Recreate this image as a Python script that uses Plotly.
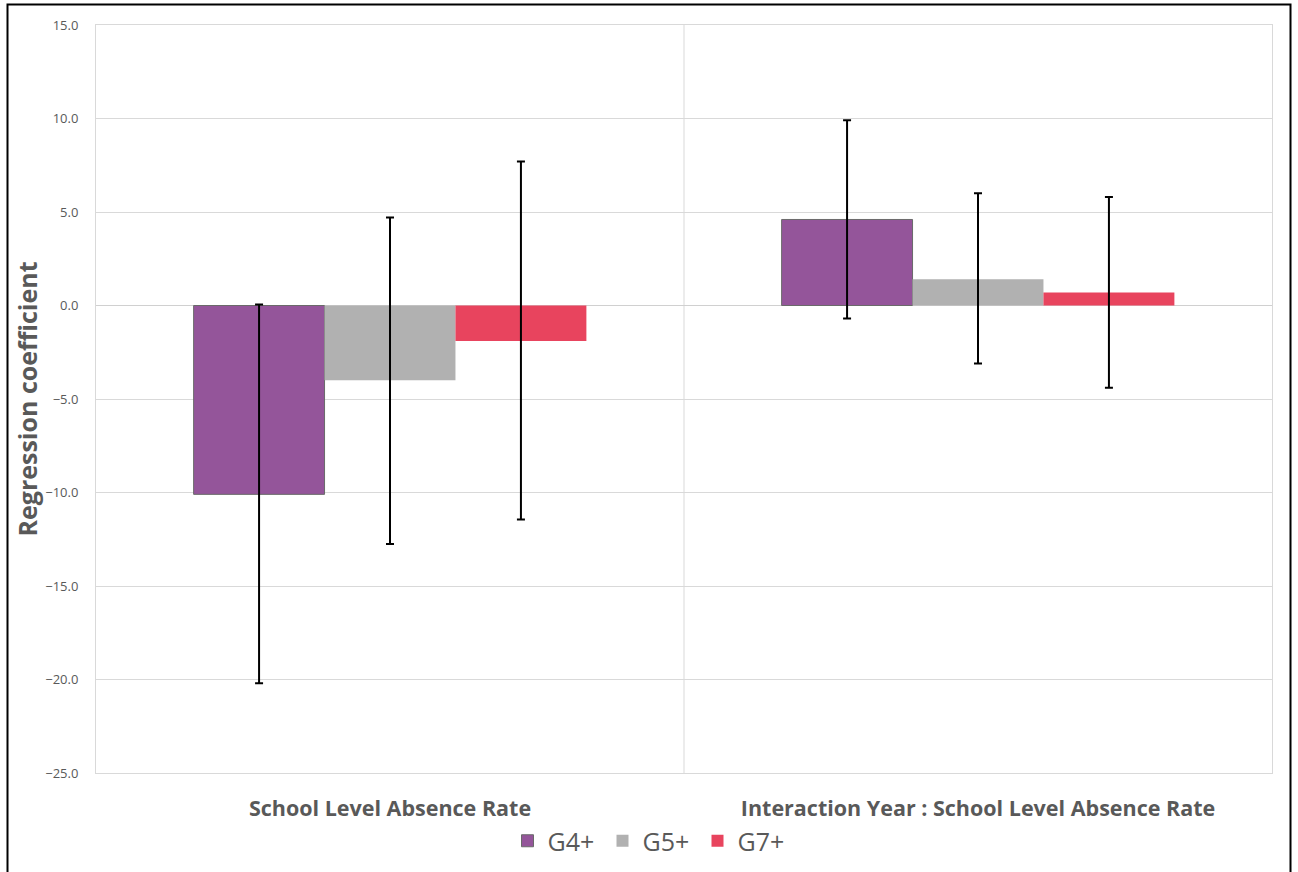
import plotly.graph_objects as go

categories = ["School Level Absence Rate", "Interaction Year : School Level Absence Rate"]
series_names = ["G4+", "G5+", "G7+"]
coef = {
    "G4+": [-10.1, 4.6],
    "G5+": [-4.0, 1.4],
    "G7+": [-1.9, 0.7],
}
ci_upper = {
    "G4+": [0.05, 9.9],
    "G5+": [4.7, 6.0],
    "G7+": [7.7, 5.8],
}
ci_lower = {
    "G4+": [-20.2, -0.7],
    "G5+": [-12.75, -3.1],
    "G7+": [-11.45, -4.4],
}
colors = {"G4+": "#94559a", "G5+": "#b1b1b1", "G7+": "#e8445e"}
outline = {"G4+": "#6a6a6a", "G5+": "#b1b1b1", "G7+": "#e8445e"}

W, H = 1298, 872
L, R, T, B = 96, 1272, 25, 773
pw, ph = R - L, B - T

fig = go.Figure()
for s in series_names:
    up = [u - v for u, v in zip(ci_upper[s], coef[s])]
    dn = [v - l for l, v in zip(ci_lower[s], coef[s])]
    fig.add_trace(go.Bar(
        name=s, x=categories, y=coef[s],
        marker=dict(color=colors[s], line=dict(color=outline[s], width=1 if s == "G4+" else 0)),
        error_y=dict(type="data", symmetric=False, array=up, arrayminus=dn,
                     color="black", thickness=2, width=4),
    ))

font_family = "'Open Sans', sans-serif"
fig.update_layout(
    width=W, height=H,
    margin=dict(l=L, r=W - R, t=T, b=H - B, pad=0, autoexpand=False),
    paper_bgcolor="white", plot_bgcolor="white",
    barmode="group", bargap=0.332, bargroupgap=0,
    font=dict(family=font_family, color="#595959"),
    showlegend=True,
    legend=dict(orientation="h", xref="container", yref="container",
                x=650 / W, xanchor="center",
                y=(H - 841) / H, yanchor="middle",
                font=dict(size=25, color="#595959"), traceorder="normal",
                itemwidth=30, entrywidth=50, entrywidthmode="pixels"),
    xaxis=dict(type="category", range=[-0.5, 1.5], showgrid=False, automargin=False,
               showline=True, linecolor="#d9d9d9", linewidth=1, mirror=True,
               ticks="", tickfont=dict(size=21.5, color="#595959", family=font_family),
               tickvals=categories,
               ticktext=["<b>" + c + "</b>" for c in categories],
               ticklabelstandoff=16),
    yaxis=dict(range=[-25, 15], dtick=5, tickformat=".1f", automargin=True,
               showgrid=True, gridcolor="#d9d9d9", gridwidth=1,
               zeroline=True, zerolinecolor="#d0d0d0", zerolinewidth=1,
               showline=True, linecolor="#d9d9d9", linewidth=1, mirror=True,
               ticks="", tickfont=dict(size=13, color="#595959"),
               ticklabelstandoff=14,
               title=dict(text="<b>Regression coefficient</b>",
                          font=dict(size=25, color="#595959"), standoff=0)),
)
# category divider
fig.add_shape(type="line", xref="x", yref="paper", x0=0.5, x1=0.5, y0=0, y1=1,
              line=dict(color="#d9d9d9", width=1), layer="below")
# outer frame
fig.add_shape(type="rect", xref="paper", yref="paper",
              x0=(7.5 - L) / pw, x1=(1290.5 - L) / pw,
              y0=(B - 890) / ph, y1=(B - 4.5) / ph,
              line=dict(color="black", width=2), fillcolor="rgba(0,0,0,0)")

fig.write_html("out.html", config={"displayModeBar": False},
               post_script="document.body.style.margin='0';document.body.style.overflow='hidden';")
